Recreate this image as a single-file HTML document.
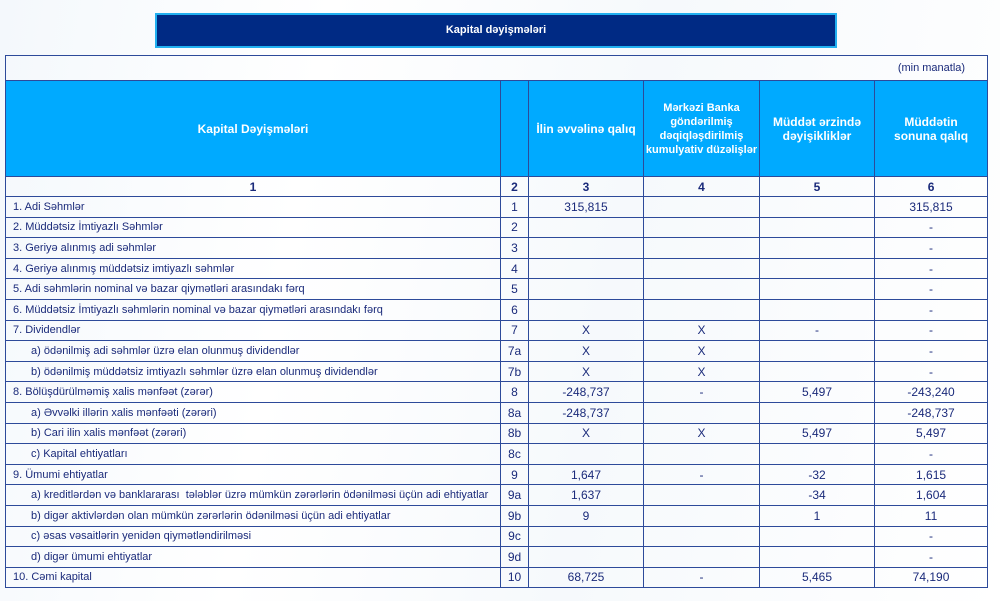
<!DOCTYPE html>
<html><head><meta charset="utf-8"><style>
body{margin:0;width:1000px;height:601px;background:#fff;font-family:"Liberation Sans",Arial,sans-serif;position:relative;overflow:hidden;}
.bg1{position:absolute;left:0;top:0;width:1000px;height:601px;background:linear-gradient(100deg,#f4f8fc 0%,#fff 30%,#f6f9fc 60%,#fff 100%);}
.title{position:absolute;left:155px;top:13px;width:678px;height:31px;background:#002a84;border:2px solid #22b0f0;color:#fff;font-weight:bold;font-size:11px;text-align:center;line-height:31px;}
table{position:absolute;left:5px;top:55px;border-collapse:collapse;table-layout:fixed;width:982px;font-size:12px;color:#1a2a7a;}
td{border:1px solid #2d4a9a;padding:0;height:19.6px;text-align:center;white-space:nowrap;overflow:hidden;}
td.l{text-align:left;padding-left:7px;font-size:11px;}
td.s{padding-left:25px;}
tr.unit td{height:24px;text-align:right;padding-right:22px;border-bottom:1px solid #2d4a9a;font-size:11px;}
tr.hd td{background:#00aaff;color:#fff;font-weight:bold;height:95px;line-height:14px;font-size:12px;}
tr.hd td.sm{font-size:11px;}
tr.num td{font-weight:bold;font-size:12px;height:19px;}
</style></head><body>
<div class="bg1"></div>
<div class="title">Kapital dəyişmələri</div>
<table>
<colgroup><col style="width:495px"><col style="width:28px"><col style="width:115px"><col style="width:116px"><col style="width:115px"><col style="width:113px"></colgroup>
<tr class="unit"><td colspan="6">(min manatla)</td></tr>
<tr class="hd"><td>Kapital Dəyişmələri</td><td></td><td>İlin əvvəlinə qalıq</td><td class="sm">Mərkəzi Banka<br>göndərilmiş<br>dəqiqləşdirilmiş<br>kumulyativ düzəlişlər</td><td>Müddət ərzində<br>dəyişikliklər</td><td>Müddətin<br>sonuna qalıq</td></tr>
<tr class="num"><td>1</td><td>2</td><td>3</td><td>4</td><td>5</td><td>6</td></tr>
<tr><td class="l">1. Adi Səhmlər</td><td>1</td><td>315,815</td><td></td><td></td><td>315,815</td></tr>
<tr><td class="l">2. Müddətsiz İmtiyazlı Səhmlər</td><td>2</td><td></td><td></td><td></td><td>-</td></tr>
<tr><td class="l">3. Geriyə alınmış adi səhmlər</td><td>3</td><td></td><td></td><td></td><td>-</td></tr>
<tr><td class="l">4. Geriyə alınmış müddətsiz imtiyazlı səhmlər</td><td>4</td><td></td><td></td><td></td><td>-</td></tr>
<tr><td class="l">5. Adi səhmlərin nominal və bazar qiymətləri arasındakı fərq</td><td>5</td><td></td><td></td><td></td><td>-</td></tr>
<tr><td class="l">6. Müddətsiz İmtiyazlı səhmlərin nominal və bazar qiymətləri arasındakı fərq</td><td>6</td><td></td><td></td><td></td><td>-</td></tr>
<tr><td class="l">7. Dividendlər</td><td>7</td><td>X</td><td>X</td><td>-</td><td>-</td></tr>
<tr><td class="l s">a) ödənilmiş adi səhmlər üzrə elan olunmuş dividendlər</td><td>7a</td><td>X</td><td>X</td><td></td><td>-</td></tr>
<tr><td class="l s">b) ödənilmiş müddətsiz imtiyazlı səhmlər üzrə elan olunmuş dividendlər</td><td>7b</td><td>X</td><td>X</td><td></td><td>-</td></tr>
<tr><td class="l">8. Bölüşdürülməmiş xalis mənfəət (zərər)</td><td>8</td><td>-248,737</td><td>-</td><td>5,497</td><td>-243,240</td></tr>
<tr><td class="l s">a) Əvvəlki illərin xalis mənfəəti (zərəri)</td><td>8a</td><td>-248,737</td><td></td><td></td><td>-248,737</td></tr>
<tr><td class="l s">b) Cari ilin xalis mənfəət (zərəri)</td><td>8b</td><td>X</td><td>X</td><td>5,497</td><td>5,497</td></tr>
<tr><td class="l s">c) Kapital ehtiyatları</td><td>8c</td><td></td><td></td><td></td><td>-</td></tr>
<tr><td class="l">9. Ümumi ehtiyatlar</td><td>9</td><td>1,647</td><td>-</td><td>-32</td><td>1,615</td></tr>
<tr><td class="l s">a) kreditlərdən və banklararası &nbsp;tələblər üzrə mümkün zərərlərin ödənilməsi üçün adi ehtiyatlar</td><td>9a</td><td>1,637</td><td></td><td>-34</td><td>1,604</td></tr>
<tr><td class="l s">b) digər aktivlərdən olan mümkün zərərlərin ödənilməsi üçün adi ehtiyatlar</td><td>9b</td><td>9</td><td></td><td>1</td><td>11</td></tr>
<tr><td class="l s">c) əsas vəsaitlərin yenidən qiymətləndirilməsi</td><td>9c</td><td></td><td></td><td></td><td>-</td></tr>
<tr><td class="l s">d) digər ümumi ehtiyatlar</td><td>9d</td><td></td><td></td><td></td><td>-</td></tr>
<tr><td class="l">10. Cəmi kapital</td><td>10</td><td>68,725</td><td>-</td><td>5,465</td><td>74,190</td></tr>
</table>
</body></html>
